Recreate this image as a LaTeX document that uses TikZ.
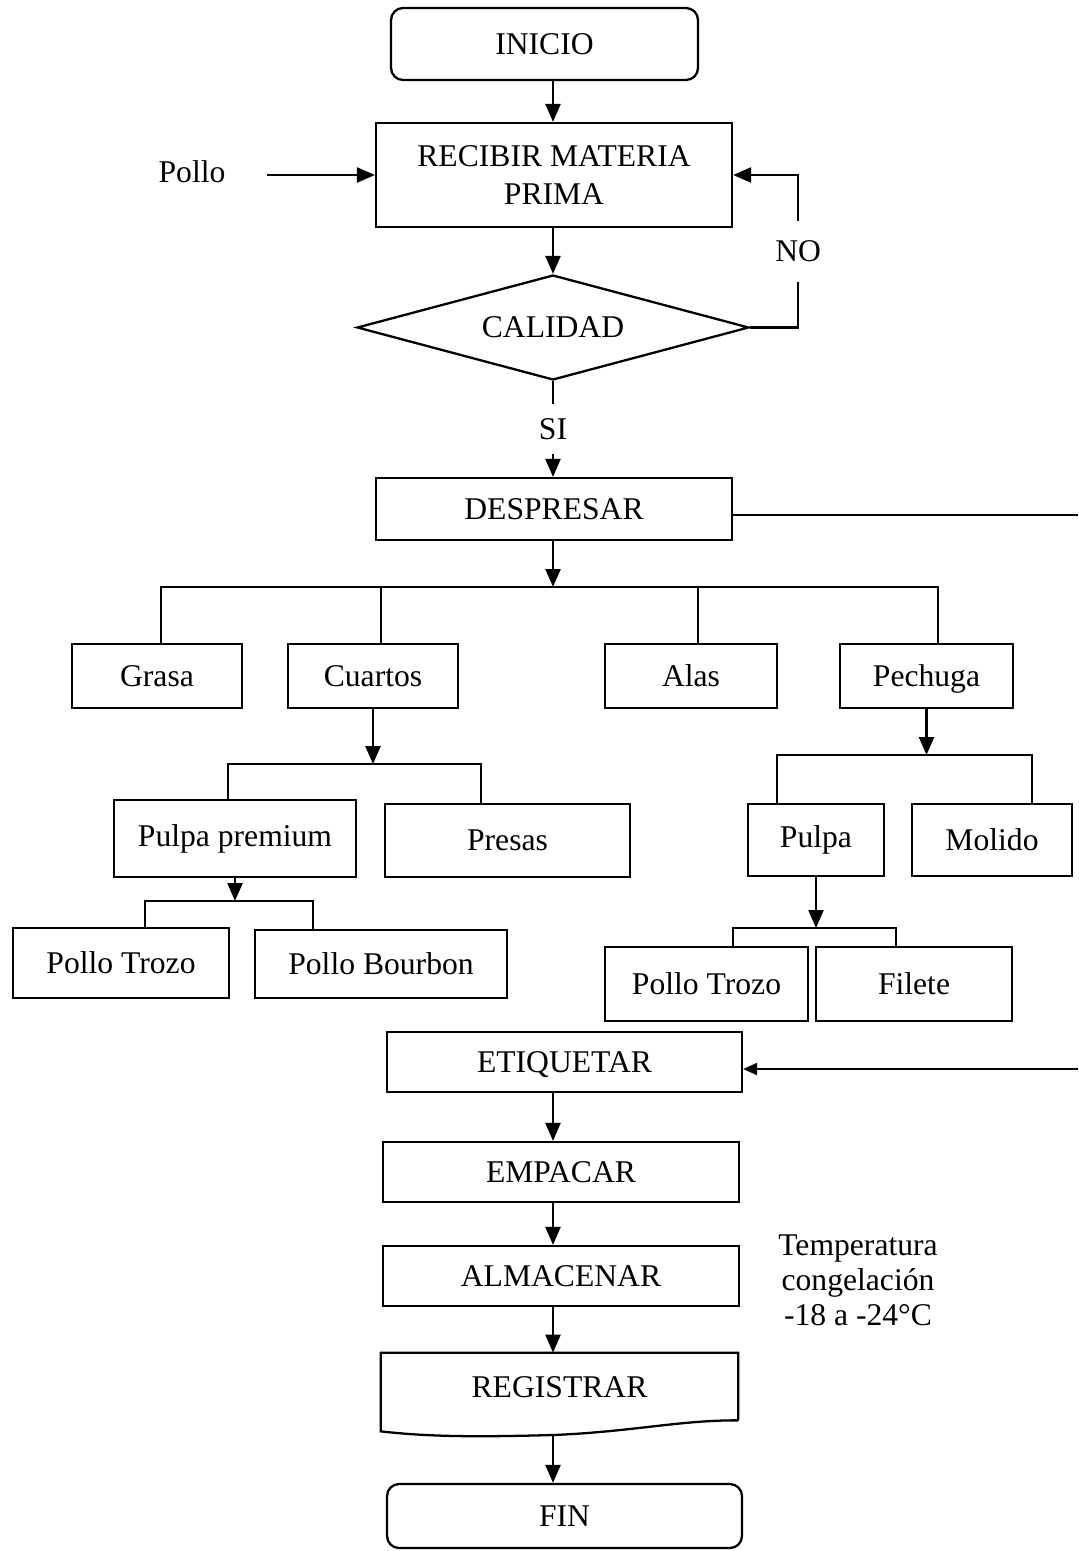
\documentclass[tikz,border=0pt]{standalone}
\usepackage{fontspec}
\setmainfont{Liberation Serif}
\usetikzlibrary{arrows.meta,shapes.geometric}

\begin{document}
\begin{tikzpicture}[x=0.02cm,y=-0.02cm,
  font=\fontsize{18}{21.6}\selectfont,
  blk/.style={draw,line width=1.3pt,inner sep=0pt,align=center},
  one/.style={blk,text height=16pt,text depth=4pt},
  term/.style={one,rounded corners=0.24cm},
  arr/.style={line width=1.4pt,-{Triangle[length=0.36cm,width=0.3cm]}},
  lnk/.style={line width=0.6pt}]
  \useasboundingbox (0,0) rectangle (1078,1551);
  % main column
  \node[term,minimum width=6.14cm,minimum height=1.44cm] (inicio) at (544.5,44) {INICIO};
  \node[blk,minimum width=7.12cm,minimum height=2.08cm] (recibir) at (554,175) {RECIBIR MATERIA\\PRIMA};
  \node[inner sep=0pt] (pollo) at (192,172) {Pollo};
  \node[blk,diamond,aspect=3.7,minimum width=7.84cm,minimum height=2.1cm] (calidad) at (553,327.5) {CALIDAD};
  \node[one,minimum width=7.12cm,minimum height=1.24cm] (despresar) at (554,509) {DESPRESAR};
  % cuts
  \node[one,minimum width=3.4cm,minimum height=1.28cm] (grasa) at (157,676) {Grasa};
  \node[one,minimum width=3.4cm,minimum height=1.28cm] (cuartos) at (373,676) {Cuartos};
  \node[one,minimum width=3.44cm,minimum height=1.28cm] (alas) at (691,676) {Alas};
  \node[one,minimum width=3.46cm,minimum height=1.28cm] (pechuga) at (926.5,676) {Pechuga};
  \node[blk,minimum width=4.84cm,minimum height=1.54cm] (pprem) at (235,838.5) {Pulpa premium};
  \node[blk,minimum width=4.9cm,minimum height=1.46cm] (presas) at (507.5,840.5) {Presas};
  \node[blk,minimum width=4.32cm,minimum height=1.4cm] (trozoA) at (121,963) {Pollo Trozo};
  \node[blk,minimum width=5.04cm,minimum height=1.36cm] (bourbon) at (381,964) {Pollo Bourbon};
  \node[blk,minimum width=2.72cm,minimum height=1.44cm] (pulpa) at (816,840) {Pulpa};
  \node[blk,minimum width=3.2cm,minimum height=1.44cm] (molido) at (992,840) {Molido};
  \node[blk,minimum width=4.06cm,minimum height=1.48cm] (trozoB) at (706.5,984) {Pollo Trozo};
  \node[blk,minimum width=3.92cm,minimum height=1.48cm] (filete) at (914,984) {Filete};
  % final steps
  \node[one,minimum width=7.1cm,minimum height=1.2cm] (etiq) at (564.5,1062) {ETIQUETAR};
  \node[one,minimum width=7.12cm,minimum height=1.2cm] (empacar) at (561,1172) {EMPACAR};
  \node[one,minimum width=7.12cm,minimum height=1.2cm] (almacenar) at (561,1276) {ALMACENAR};
  \node[inner sep=0pt,text height=16pt,text depth=4pt,minimum width=7.14cm,minimum height=1.34cm] (registrar) at (559.5,1386.5) {REGISTRAR};
  \node[term,minimum width=7.1cm,minimum height=1.28cm] (fin) at (564.5,1516) {FIN};
  \node[align=center,font=\fontsize{18}{19.9}\selectfont] (temp) at (858,1280) {Temperatura\\congelación\\-18 a -24°C};
  % document shape
  \coordinate (regbot) at (553,1435);
  \draw[line width=1.3pt] (registrar.south east) -- (registrar.north east) -- (registrar.north west)
    -- ([yshift=-0.22cm]registrar.south west) .. controls (430,1437) and (480,1437) .. (regbot)
    .. controls (630,1432) and (680,1420) .. (registrar.south east);
  % spine
  \coordinate (eje) at (553,0);
  \draw[arr] (inicio.south -| eje) -- (recibir.north -| eje);
  \draw[arr,shorten <=0.82cm] (pollo.east |- recibir.west) -- (recibir.west);
  \draw[arr] (recibir.south -| eje) -- (calidad.north);
  \draw[arr] (calidad.east) -- ++(48,0) |- node[pos=0.25,fill=white,inner xsep=2pt,inner ysep=0.4cm] {NO} (recibir.east);
  \draw[arr] (calidad.south) -- node[fill=white,inner xsep=2pt,inner ysep=0.29cm] {SI} (despresar.north -| eje);
  % branches of DESPRESAR
  \coordinate (bA) at (553,587);
  \coordinate (bA1) at (161,587); \coordinate (bA2) at (938,587);
  \coordinate (bAc) at (381,587); \coordinate (bAa) at (698,587);
  \draw[arr] (despresar.south -| eje) -- (bA);
  \draw[lnk] (grasa.north -| bA1) -- (bA1) -- (bA2) -- (pechuga.north -| bA2);
  \draw[lnk] (bAc) -- (cuartos.north -| bAc);
  \draw[lnk] (bAa) -- (alas.north -| bAa);
  % Cuartos
  \coordinate (bB1) at (228,764); \coordinate (bB2) at (481,764);
  \draw[arr] (cuartos.south) -- (cuartos.south |- bB1);
  \draw[lnk] (pprem.north -| bB1) -- (bB1) -- (bB2) -- (presas.north -| bB2);
  \coordinate (bC1) at (145,901); \coordinate (bC2) at (313,901);
  \draw[arr] (pprem.south) -- (pprem.south |- bC1);
  \draw[lnk] (trozoA.north -| bC1) -- (bC1) -- (bC2) -- (bourbon.north -| bC2);
  % Pechuga
  \coordinate (bD1) at (777,755); \coordinate (bD2) at (1032,755);
  \draw[arr] (pechuga.south) -- (pechuga.south |- bD1);
  \draw[lnk] (pulpa.north -| bD1) -- (bD1) -- (bD2) -- (molido.north -| bD2);
  \coordinate (bE1) at (733,928); \coordinate (bE2) at (896,928);
  \draw[arr] (pulpa.south) -- (pulpa.south |- bE1);
  \draw[lnk] (trozoB.north -| bE1) -- (bE1) -- (bE2) -- (filete.north -| bE2);
  % side lines to the edge
  \coordinate (rimA) at (1078,515); \coordinate (rimB) at (1078,1069);
  \draw[lnk] (despresar.east |- rimA) -- (rimA);
  \draw[line width=1pt,-{Triangle[length=0.28cm,width=0.24cm]}] (rimB) -- (rimB -| etiq.east);
  % lower spine
  \draw[arr] (etiq.south -| eje) -- (empacar.north -| eje);
  \draw[arr] (empacar.south -| eje) -- (almacenar.north -| eje);
  \draw[arr] (almacenar.south -| eje) -- (registrar.north -| eje);
  \draw[arr] (regbot) -- (fin.north -| eje);
\end{tikzpicture}
\end{document}
